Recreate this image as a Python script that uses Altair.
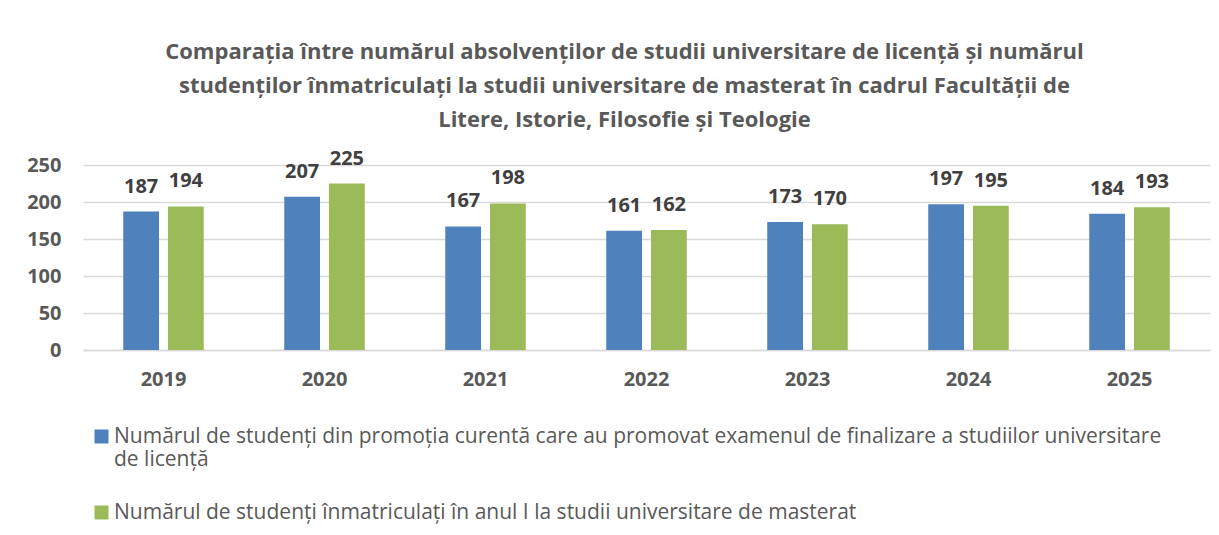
import json
import altair as alt
import pandas as pd

years = ["2019", "2020", "2021", "2022", "2023", "2024", "2025"]
absolventi = [187, 207, 167, 161, 173, 197, 184]
inmatriculati = [194, 225, 198, 162, 170, 195, 193]

s1 = "Numărul de studenți din promoția curentă care au promovat examenul de finalizare a studiilor universitare de licență"
s2 = "Numărul de studenți înmatriculați în anul I la studii universitare de masterat"
s1_lines = ["Numărul de studenți din promoția curentă care au promovat examenul de finalizare a studiilor universitare", "de licență"]

title_lines = [
    "Comparația între numărul absolvenților de studii universitare de licență și numărul",
    "studenților înmatriculați la studii universitare de masterat în cadrul Facultății de",
    "Litere, Istorie, Filosofie și Teologie",
]

rows = []
for y, a, b in zip(years, absolventi, inmatriculati):
    rows.append({"an": y, "serie": s1, "valoare": a})
    rows.append({"an": y, "serie": s2, "valoare": b})
df = pd.DataFrame(rows)

FONT = "Open Sans"
GRAY = "#595959"

label_expr = "datum.label == " + json.dumps(s1) + " ? " + json.dumps(s1_lines) + " : datum.label"

base = alt.Chart(df).encode(
    x=alt.X("an:N", title=None, sort=years,
            scale=alt.Scale(paddingInner=0.5, paddingOuter=0.25),
            axis=alt.Axis(labelAngle=0, labelFontSize=20, labelFontWeight="bold", labelColor=GRAY,
                          labelFont=FONT, ticks=False, domainColor="#D9D9D9", domainWidth=1.5,
                          labelPadding=19)),
    xOffset=alt.XOffset("serie:N", sort=[s1, s2], scale=alt.Scale(paddingInner=0.2, paddingOuter=0)),
    y=alt.Y("valoare:Q", title=None, scale=alt.Scale(domain=[0, 250]),
            axis=alt.Axis(values=[0, 50, 100, 150, 200, 250], labelFontSize=20, labelFontWeight="bold",
                          labelColor=GRAY, labelFont=FONT, ticks=False, domain=False, labelOverlap=False,
                          gridColor="#D9D9D9", gridWidth=1.5, labelPadding=22)),
)

bars = base.mark_bar().encode(
    color=alt.Color("serie:N", sort=[s1, s2],
                    scale=alt.Scale(domain=[s1, s2], range=["#4F81BD", "#9BBB59"]),
                    legend=alt.Legend(title=None, orient="none", legendX=8, legendY=261,
                                      direction="vertical", symbolType="square", symbolSize=196,
                                      symbolStrokeWidth=0, labelFontSize=21, labelColor=GRAY,
                                      labelFont=FONT, labelLimit=1200, labelExpr=label_expr,
                                      rowPadding=31, padding=0, labelOffset=2)),
)

labels = base.mark_text(fontSize=20, fontWeight="bold", font=FONT, color="#404040",
                        baseline="middle", dy=-25).encode(
    text=alt.Text("valoare:Q"),
)

chart = (bars + labels).properties(
    width=1127, height=185,
    padding={"left": 75, "top": 157, "right": 1, "bottom": 177},
    autosize=alt.AutoSizeParams(type="none"),
    title=alt.Title(title_lines, fontSize=22, font=FONT, fontWeight="bold", color=GRAY,
                    anchor="middle", lineHeight=34, offset=17, dx=-22),
).configure_view(stroke=None)

chart.save("out.html", embed_options={"renderer": "svg", "actions": False})
